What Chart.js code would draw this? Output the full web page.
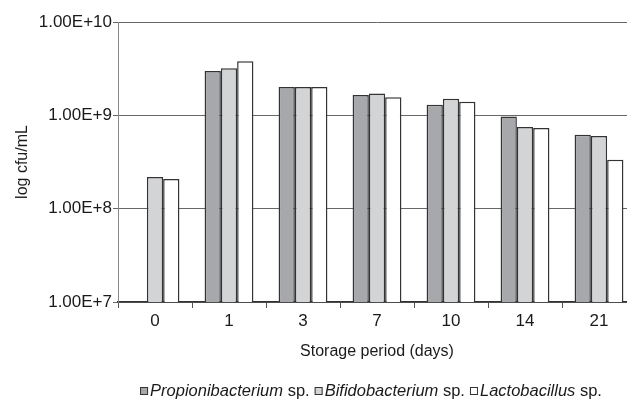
<!DOCTYPE html>
<html lang="en">
<head>
<meta charset="UTF-8">
<title>Viable counts during storage</title>
<style>
  body { margin: 0; overflow: hidden; background: #fff; }
  canvas { display: block; }
</style>
</head>
<body>
<canvas id="chart" width="640" height="410"></canvas>
<script src="https://cdn.jsdelivr.net/npm/chart.js"></script>
<script>
// storage days and counts (cfu/mL)
const days = ['0', '1', '3', '7', '10', '14', '21'];
const genera = ['Propionibacterium', 'Bifidobacterium', 'Lactobacillus'];
const propioni = [null, 2.98e9, 2.01e9, 1.65e9, 1.30e9, 9.7e8, 6.2e8];
const bifido   = [2.18e8, 3.19e9, 2.01e9, 1.71e9, 1.51e9, 7.5e8, 6.0e8];
const lacto    = [2.08e8, 3.79e9, 2.01e9, 1.56e9, 1.40e9, 7.3e8, 3.35e8];
const yTicks = [1e7, 1e8, 1e9, 1e10];

const FONT = '"Liberation Sans", Arial, sans-serif';
const TEXT = '#1a1a1a';

// legend with italic genus names and upright "sp."
const italicLegend = {
    id: 'italicLegend',
    afterDraw(chart) {
        const ctx = chart.ctx;
        const y = 391, box = 8, boxGap = 2, gap = 5;
        const italic = 'italic 16.5px ' + FONT;
        const normal = '16.5px ' + FONT;
        ctx.save();
        const items = chart.data.datasets.map(ds => {
            ctx.font = italic;
            const w1 = ctx.measureText(ds.label).width;
            ctx.font = normal;
            const w2 = ctx.measureText(' sp.').width;
            return { ds, w1, w2 };
        });
        const total = items.reduce((s, it) => s + box + boxGap + it.w1 + it.w2, 0) + gap * (items.length - 1);
        let x = 371 - total / 2;
        ctx.textBaseline = 'middle';
        items.forEach(it => {
            ctx.fillStyle = it.ds.backgroundColor;
            ctx.fillRect(x, y - box / 2, box, box);
            ctx.strokeStyle = '#333';
            ctx.lineWidth = 1;
            ctx.strokeRect(x + 0.5, y - box / 2 + 0.5, box - 1, box - 1);
            x += box + boxGap;
            ctx.fillStyle = TEXT;
            ctx.font = italic;
            ctx.fillText(it.ds.label, x, y);
            x += it.w1;
            ctx.font = normal;
            ctx.fillText(' sp.', x, y);
            x += it.w2 + gap;
        });
        ctx.restore();
    }
};

new Chart(document.getElementById('chart'), {
    type: 'bar',
    data: {
        labels: days,
        datasets: [
            { label: genera[0], data: propioni, backgroundColor: '#a7a8ab' },
            { label: genera[1], data: bifido, backgroundColor: '#d3d4d6' },
            { label: genera[2], data: lacto, backgroundColor: '#ffffff' }
        ]
    },
    options: {
        responsive: false,
        animation: false,
        layout: { padding: { top: 22, right: 4, bottom: 46, left: 0 } },
        plugins: { legend: { display: false }, tooltip: { enabled: false } },
        datasets: {
            bar: { categoryPercentage: 0.66, barPercentage: 1.0, borderWidth: 1.5, borderColor: '#333' }
        },
        scales: {
            x: {
                grid: { display: true, drawOnChartArea: false, drawTicks: true, tickLength: 6, color: '#555', offset: true },
                border: { color: '#333', width: 1.5 },
                ticks: { color: TEXT, font: { family: FONT, size: 17 }, padding: 3 },
                title: { display: true, text: 'Storage period (days)', color: TEXT, font: { family: FONT, size: 16 }, padding: { top: 3, bottom: 3 } },
                afterFit(ax) { ax.height = 62; }
            },
            y: {
                type: 'logarithmic',
                min: 1e7,
                max: 1e10,
                afterBuildTicks(ax) { ax.ticks = yTicks.map(v => ({ value: v })); },
                ticks: {
                    color: TEXT,
                    font: { family: FONT, size: 17 },
                    padding: 1,
                    callback: v => Number(v).toExponential(2).toUpperCase()
                },
                grid: { color: '#666', lineWidth: 1, tickLength: 5 },
                border: { color: '#888' },
                title: { display: true, text: 'log cfu/mL', color: TEXT, font: { family: FONT, size: 16 }, padding: { top: 13, bottom: 0 } },
                afterFit(ax) { ax.width = 118; }
            }
        }
    },
    plugins: [italicLegend]
});
</script>
</body>
</html>
